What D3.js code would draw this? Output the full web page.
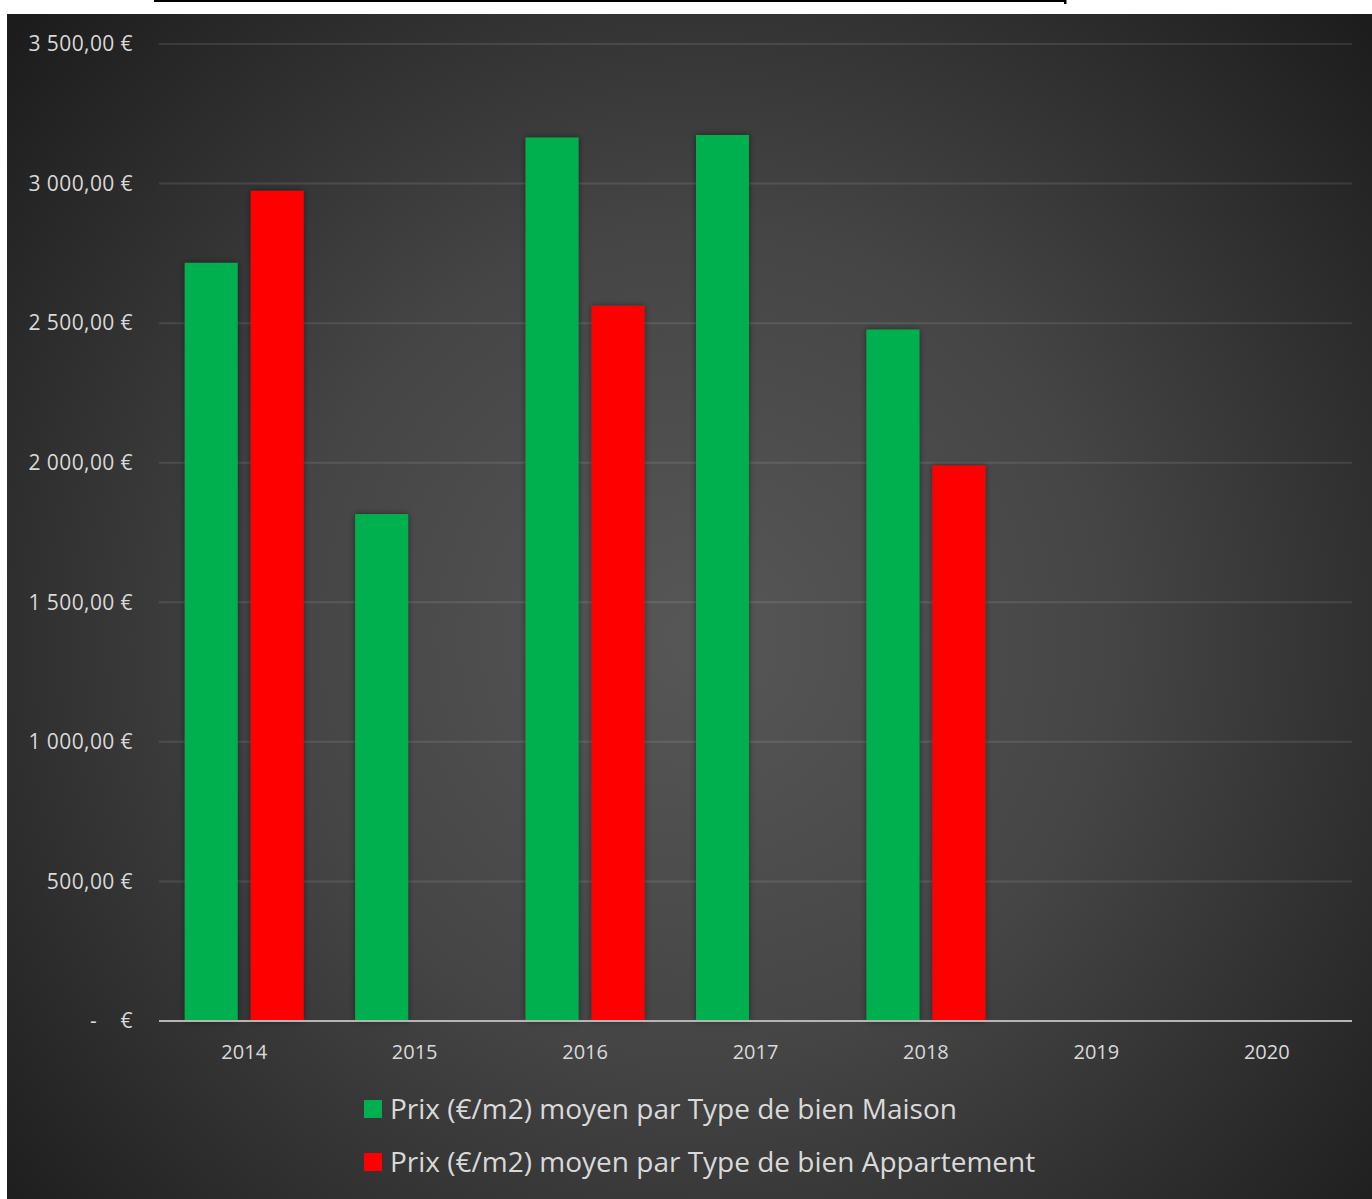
<!DOCTYPE html>
<html lang="fr">
<head>
<meta charset="UTF-8">
<title>Prix moyen au m2</title>
<script src="https://d3js.org/d3.v7.min.js"></script>
<style>
  body { margin: 0; background: #fff; }
  svg { display: block; font-family: "Open Sans", sans-serif; }
</style>
</head>
<body>
<div id="chart"></div>
<script>
const years = ["2014", "2015", "2016", "2017", "2018", "2019", "2020"];
const maison = [2716, 1816, 3165, 3174, 2477, null, null];
const appartement = [2974, null, 2562, null, 1990, null, null];
const yTicks = [0, 500, 1000, 1500, 2000, 2500, 3000, 3500];
const seriesNames = [
  "Prix (€/m2) moyen par Type de bien Maison",
  "Prix (€/m2) moyen par Type de bien Appartement"
];
const colors = ["#00b050", "#ff0000"];

const width = 1372, height = 1199;
const margin = { left: 159, right: 20, top: 44, bottom: 178 };

const svg = d3.select("#chart").append("svg")
  .attr("width", width).attr("height", height);

const defs = svg.append("defs");
const grad = defs.append("radialGradient")
  .attr("id", "bg").attr("gradientUnits", "userSpaceOnUse")
  .attr("cx", 700).attr("cy", 640).attr("r", 920);
grad.append("stop").attr("offset", "0%").attr("stop-color", "#575757");
grad.append("stop").attr("offset", "45%").attr("stop-color", "#454545");
grad.append("stop").attr("offset", "100%").attr("stop-color", "#1c1c1c");

const shadow = defs.append("filter").attr("id", "shadow")
  .attr("x", "-20%").attr("y", "-5%").attr("width", "140%").attr("height", "110%");
shadow.append("feDropShadow").attr("dx", 0).attr("dy", 0)
  .attr("stdDeviation", 3).attr("flood-color", "#000").attr("flood-opacity", 0.45);

// fond
svg.append("rect").attr("x", 7).attr("y", 14)
  .attr("width", width - 7).attr("height", height - 14)
  .attr("fill", "url(#bg)");

// trait du titre coupé en haut
svg.append("line").attr("x1", 154).attr("x2", 1066).attr("y1", 1).attr("y2", 1)
  .attr("stroke", "#000").attr("stroke-width", 2);
svg.append("rect").attr("x", 1064).attr("y", 0).attr("width", 2.5).attr("height", 4).attr("fill", "#000");

const x = d3.scaleBand()
  .domain(years)
  .range([margin.left, width - margin.right]);

const y = d3.scaleLinear()
  .domain([0, 3500])
  .range([height - margin.bottom, margin.top]);

const fmt = v => v === 0 ? "-    €" :
  d3.format(",.2f")(v).replace(/,/g, " ").replace(".", ",") + " €";

// grille
svg.append("g").selectAll("line").data(yTicks.filter(d => d > 0)).join("line")
  .attr("x1", x.range()[0]).attr("x2", x.range()[1])
  .attr("y1", d => y(d)).attr("y2", d => y(d))
  .attr("stroke", "rgba(255,255,255,0.1)").attr("stroke-width", 2);

// axe Y
const yAxis = svg.append("g")
  .attr("transform", `translate(${margin.left - 26},0)`)
  .call(d3.axisLeft(y).tickValues(yTicks).tickFormat(fmt).tickSize(0).tickPadding(0))
  .attr("font-family", null).attr("font-size", null);
yAxis.select(".domain").remove();
yAxis.selectAll("text")
  .attr("fill", "#d9d9d9").style("font-size", "21px")
  .style("letter-spacing", "0.4px")
  .style("white-space", "pre");

// barres
const barW = 53, gap = 13;
const series = [maison, appartement];
const xInner = d3.scaleOrdinal().domain([0, 1])
  .range([-(barW + gap / 2), gap / 2]);

series.forEach((vals, s) => {
  svg.append("g").attr("filter", "url(#shadow)")
    .selectAll("rect")
    .data(years.map((yr, i) => ({ yr, v: vals[i] })).filter(d => d.v != null))
    .join("rect")
    .attr("x", d => x(d.yr) + x.bandwidth() / 2 + xInner(s))
    .attr("y", d => y(d.v))
    .attr("width", barW)
    .attr("height", d => y(0) - y(d.v))
    .attr("fill", colors[s]);
});

// axe X
svg.append("line")
  .attr("x1", x.range()[0]).attr("x2", x.range()[1])
  .attr("y1", y(0)).attr("y2", y(0))
  .attr("stroke", "#b5b5b5").attr("stroke-width", 2);

const xAxis = svg.append("g")
  .attr("transform", `translate(0,${y(0)})`)
  .call(d3.axisBottom(x).tickSize(0).tickPadding(0))
  .attr("font-family", null).attr("font-size", null);
xAxis.select(".domain").remove();
xAxis.selectAll("text")
  .attr("y", 31).attr("dy", "0.35em")
  .attr("fill", "#d9d9d9").style("font-size", "20px");

// légende
const legend = svg.append("g");
const legendY = [1109, 1162];
seriesNames.forEach((name, i) => {
  legend.append("rect")
    .attr("x", 364).attr("y", legendY[i] - 9)
    .attr("width", 18).attr("height", 18)
    .attr("fill", colors[i]);
  legend.append("text")
    .attr("x", 390).attr("y", legendY[i])
    .attr("dy", "0.35em")
    .attr("fill", "#d9d9d9").style("font-size", "28px")
    .text(name);
});
</script>
</body>
</html>
